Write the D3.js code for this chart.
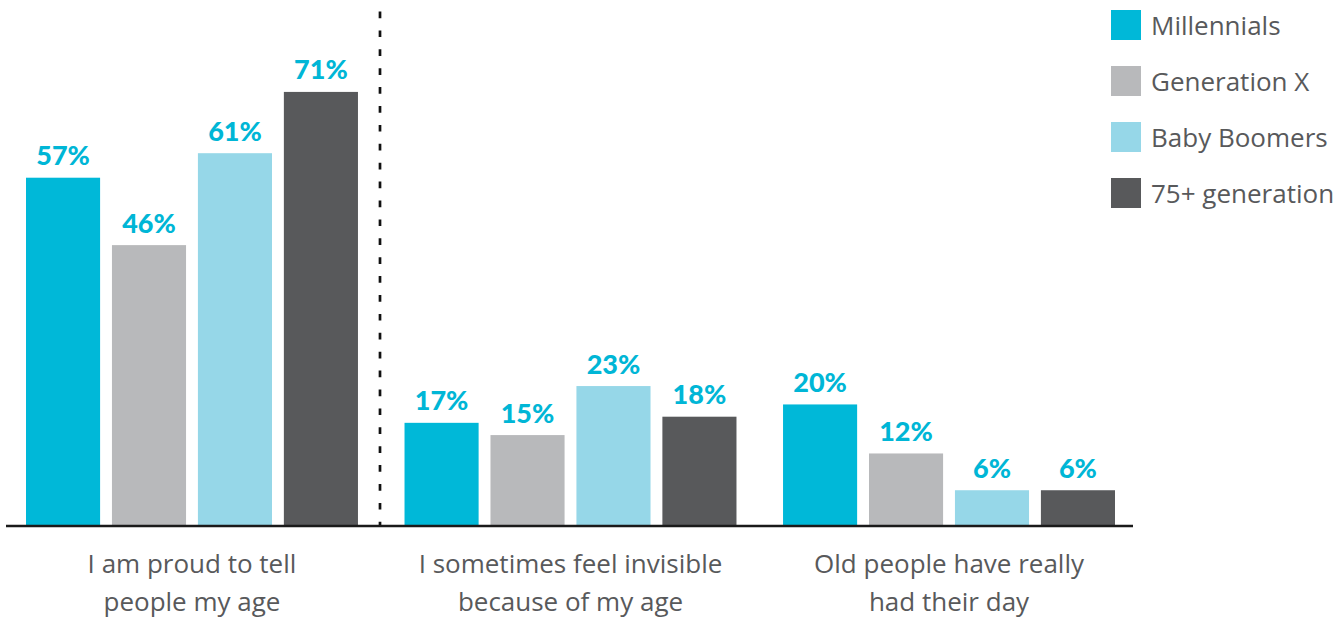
<!DOCTYPE html>
<html>
<head>
<meta charset="utf-8">
<script src="https://cdn.jsdelivr.net/npm/d3@7/dist/d3.min.js"></script>
<style>
  html, body { margin: 0; padding: 0; background: #fff; }
  svg { display: block; }
  .cat text { font-family: "Open Sans", Lato, sans-serif; font-size: 26px; fill: #58595b; }
  .legend text { font-family: "Open Sans", Lato, sans-serif; font-size: 26px; fill: #58595b; }
  .val { font-family: Lato, sans-serif; font-weight: 900; font-size: 27px; fill: #00b6d6; }
</style>
</head>
<body>
<svg id="chart" width="1344" height="618"></svg>
<script>
// Statements and their two-line labels
const categories = [
  "I am proud to tell people my age",
  "I sometimes feel invisible because of my age",
  "Old people have really had their day"
];
const categoryLines = [
  ["I am proud to tell", "people my age"],
  ["I sometimes feel invisible", "because of my age"],
  ["Old people have really", "had their day"]
];

// Generations
const series = ["Millennials", "Generation X", "Baby Boomers", "75+ generation"];
const colors = ["#00b8d8", "#b8b9bb", "#96d7e8", "#58595b"];

// Share agreeing (%) per generation, one entry per statement
const millennials   = [57, 17, 20];
const generationX   = [46, 15, 12];
const babyBoomers   = [61, 23, 6];
const gen75plus     = [71, 18, 6];
const seriesValues  = [millennials, generationX, babyBoomers, gen75plus];

const svg = d3.select("#chart");

const baseY = 527;
const y = d3.scaleLinear().domain([0, 86]).range([baseY, 0]);

const x0 = d3.scaleBand()
  .domain(categories)
  .range([26, 1115])
  .paddingInner(0.123)
  .paddingOuter(0);

const x1 = d3.scaleBand()
  .domain(series)
  .range([0, x0.bandwidth()])
  .paddingInner(0.138)
  .paddingOuter(0);

const color = d3.scaleOrdinal().domain(series).range(colors);

// Bars and value labels
const groups = svg.append("g").selectAll("g")
  .data(categories)
  .join("g")
  .attr("transform", d => `translate(${x0(d)},0)`);

const cells = groups.selectAll("g")
  .data((c, ci) => series.map((s, si) => ({ s, v: seriesValues[si][ci] })))
  .join("g");

cells.append("rect")
  .attr("x", d => x1(d.s))
  .attr("y", d => y(d.v))
  .attr("width", x1.bandwidth())
  .attr("height", d => baseY - y(d.v))
  .attr("fill", d => color(d.s));

cells.append("text")
  .attr("class", "val")
  .attr("x", d => x1(d.s) + x1.bandwidth() / 2)
  .attr("y", d => y(d.v) - 12.5)
  .attr("text-anchor", "middle")
  .text(d => d.v + "%");

// Divider between the first statement and the others
svg.append("line")
  .attr("x1", 380).attr("x2", 380)
  .attr("y1", 11.5).attr("y2", baseY)
  .attr("stroke", "#111")
  .attr("stroke-width", 2.7)
  .attr("stroke-dasharray", "6.7 12.2");

// Baseline
svg.append("line")
  .attr("x1", 6).attr("x2", 1133)
  .attr("y1", 526).attr("y2", 526)
  .attr("stroke", "#1a1a1a")
  .attr("stroke-width", 2.4);

// Category axis with two-line labels
const axis = svg.append("g")
  .attr("class", "cat")
  .attr("transform", `translate(0,${baseY})`)
  .call(d3.axisBottom(x0).tickSize(0).tickFormat(""));
axis.select(".domain").remove();
axis.selectAll(".tick text").remove();
axis.selectAll(".tick").each(function(d, i) {
  const t = d3.select(this).append("text")
    .attr("text-anchor", "middle")
    .attr("y", 45.5);
  categoryLines[i].forEach((line, li) => {
    t.append("tspan").attr("x", 0).attr("dy", li === 0 ? 0 : 38.5).text(line);
  });
});

// Legend
const legend = svg.append("g").attr("class", "legend")
  .selectAll("g")
  .data(series)
  .join("g")
  .attr("transform", (d, i) => `translate(1111,${10 + i * 56})`);
legend.append("rect")
  .attr("width", 30).attr("height", 30)
  .attr("fill", d => color(d));
legend.append("text")
  .attr("x", 40).attr("y", 25)
  .text(d => d);
</script>
</body>
</html>
